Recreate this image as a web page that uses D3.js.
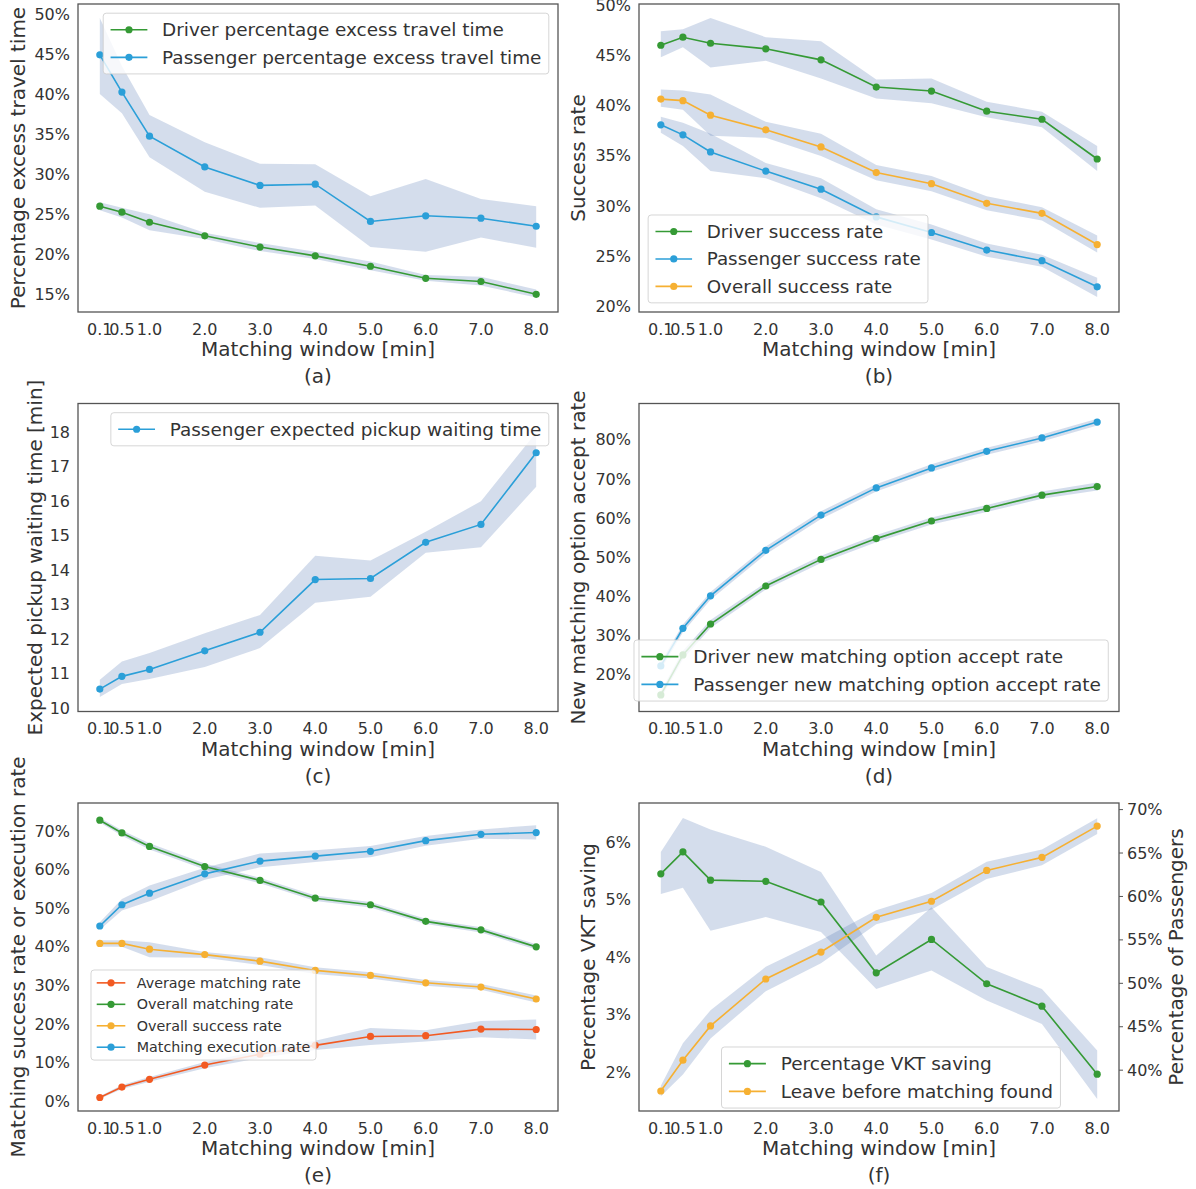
<!DOCTYPE html>
<html>
<head>
<meta charset="utf-8">
<script src="https://cdn.jsdelivr.net/npm/d3@7"></script>
<style>
  body { margin: 0; background: #fff; }
  text { font-family: "DejaVu Sans", sans-serif; fill: #333; }
</style>
</head>
<body>
<script>
// Matching windows (x axis, minutes)
const windows = [0.1, 0.5, 1, 2, 3, 4, 5, 6, 7, 8];
const windowLabels = ["0.1", "0.5", "1.0", "2.0", "3.0", "4.0", "5.0", "6.0", "7.0", "8.0"];

// (a) percentage excess travel time
const driverExcess   = [26.0, 25.25, 24.0, 22.3, 20.9, 19.8, 18.5, 17.0, 16.6, 15.0];
const driverExcessLo = [25.5, 24.6, 23.0, 21.9, 20.4, 19.4, 18.0, 16.7, 16.1, 14.6];
const driverExcessHi = [26.5, 25.8, 25.0, 22.7, 21.4, 20.3, 19.1, 17.4, 17.2, 15.6];
const passengerExcess   = [44.9, 40.25, 34.75, 30.9, 28.6, 28.75, 24.1, 24.8, 24.5, 23.5];
const passengerExcessLo = [40.0, 37.6, 32.1, 27.8, 25.8, 26.1, 20.9, 20.3, 22.1, 20.8];
const passengerExcessHi = [49.5, 43.5, 37.4, 34.0, 31.3, 31.25, 27.25, 29.4, 26.9, 26.0];

// (b) success rate
const driverSuccess   = [46.0, 46.8, 46.2, 45.65, 44.55, 41.85, 41.45, 39.45, 38.65, 34.7];
const driverSuccessLo = [44.8, 45.8, 43.8, 44.45, 42.7, 40.7, 40.25, 38.85, 37.85, 33.5];
const driverSuccessHi = [47.4, 47.6, 48.7, 46.8, 46.4, 42.6, 42.7, 40.4, 39.4, 36.0];
const passengerSuccess   = [38.1, 37.1, 35.4, 33.5, 31.7, 28.95, 27.4, 25.65, 24.6, 22.0];
const passengerSuccessLo = [37.3, 36.0, 33.5, 32.8, 30.8, 28.2, 26.7, 25.0, 24.0, 21.0];
const passengerSuccessHi = [38.9, 38.3, 37.2, 34.3, 32.8, 29.7, 28.2, 26.3, 25.2, 22.9];
const overallSuccess   = [40.65, 40.5, 39.05, 37.6, 35.9, 33.35, 32.25, 30.3, 29.3, 26.2];
const overallSuccessLo = [39.9, 39.6, 37.0, 36.8, 35.0, 32.6, 31.5, 29.6, 28.6, 25.4];
const overallSuccessHi = [41.6, 41.5, 41.1, 38.4, 37.2, 34.1, 33.0, 31.0, 29.9, 27.1];

// (c) expected pickup waiting time [min]
const pickupWait   = [10.55, 10.92, 11.12, 11.66, 12.2, 13.73, 13.76, 14.81, 15.33, 17.41];
const pickupWaitLo = [10.32, 10.7, 10.84, 11.19, 11.74, 13.06, 13.23, 14.51, 14.67, 16.42];
const pickupWaitHi = [10.82, 11.35, 11.6, 12.17, 12.7, 14.42, 14.28, 15.12, 16.0, 18.0];

// (d) new matching option accept rate
const driverAccept   = [14.9, 25.1, 33.0, 42.7, 49.5, 54.8, 59.3, 62.5, 65.9, 68.1];
const driverAcceptLo = [14.0, 24.0, 32.0, 41.8, 48.6, 53.9, 58.4, 61.6, 65.0, 67.1];
const driverAcceptHi = [15.8, 26.2, 34.0, 43.6, 50.4, 55.7, 60.2, 63.4, 66.8, 69.1];
const passengerAccept   = [22.3, 31.9, 40.2, 51.8, 60.8, 67.75, 72.85, 77.1, 80.5, 84.55];
const passengerAcceptLo = [21.3, 30.9, 39.2, 50.8, 59.8, 66.8, 71.9, 76.2, 79.6, 83.7];
const passengerAcceptHi = [23.3, 32.9, 41.2, 52.8, 61.8, 68.7, 73.8, 78.0, 81.4, 85.4];

// (e) matching success / execution rate
const avgMatching   = [1.0, 3.7, 5.7, 9.4, 12.2, 14.5, 16.8, 17.0, 18.7, 18.6];
const avgMatchingLo = [0.7, 3.2, 5.1, 8.6, 11.2, 13.3, 14.6, 15.5, 16.6, 16.0];
const avgMatchingHi = [1.3, 4.2, 6.3, 10.2, 13.2, 15.7, 19.0, 18.4, 20.8, 21.2];
const overallMatching   = [72.8, 69.5, 66.0, 60.8, 57.2, 52.6, 50.9, 46.6, 44.4, 40.0];
const overallMatchingLo = [72.2, 68.8, 65.2, 60.0, 56.5, 51.9, 50.2, 45.9, 43.7, 39.3];
const overallMatchingHi = [73.4, 70.2, 66.8, 61.6, 57.9, 53.3, 51.6, 47.3, 45.1, 40.7];
const overallSuccessE   = [40.9, 40.9, 39.4, 38.0, 36.3, 33.9, 32.6, 30.7, 29.6, 26.5];
const overallSuccessELo = [40.0, 40.0, 37.3, 37.2, 35.3, 33.0, 31.8, 29.9, 28.9, 25.6];
const overallSuccessEHi = [41.7, 41.7, 41.2, 38.7, 37.3, 34.7, 33.4, 31.4, 30.4, 27.4];
const executionRate   = [45.4, 50.9, 53.9, 58.9, 62.2, 63.5, 64.75, 67.5, 69.15, 69.6];
const executionRateLo = [44.4, 49.4, 51.8, 57.4, 60.6, 62.0, 63.2, 66.2, 68.0, 67.8];
const executionRateHi = [46.4, 52.4, 55.9, 60.5, 64.2, 65.0, 66.1, 68.7, 70.4, 71.5];

// (f) VKT saving (left axis) and leaving passengers (right axis)
const vktSaving   = [5.45, 5.83, 5.34, 5.32, 4.96, 3.73, 4.31, 3.54, 3.15, 1.97];
const vktSavingLo = [5.1, 5.21, 4.46, 4.70, 4.44, 3.45, 3.77, 3.25, 2.84, 1.54];
const vktSavingHi = [5.83, 6.42, 6.22, 5.92, 5.48, 4.03, 4.87, 3.83, 3.45, 2.38];
const leaveBefore   = [37.6, 41.15, 45.1, 50.5, 53.6, 57.6, 59.45, 63.0, 64.5, 68.1];
const leaveBeforeLo = [37.0, 39.5, 43.65, 49.1, 52.3, 56.8, 58.5, 62.0, 63.6, 67.2];
const leaveBeforeHi = [38.2, 43.1, 46.9, 51.9, 55.0, 58.4, 60.4, 64.0, 65.4, 69.0];

// tick values
const ticksA = [15, 20, 25, 30, 35, 40, 45, 50];
const ticksB = [20, 25, 30, 35, 40, 45, 50];
const ticksC = [10, 11, 12, 13, 14, 15, 16, 17, 18];
const ticksD = [20, 30, 40, 50, 60, 70, 80];
const ticksE = [0, 10, 20, 30, 40, 50, 60, 70];
const ticksF = [2, 3, 4, 5, 6];
const ticksF2 = [40, 45, 50, 55, 60, 65, 70];

const green = "#359a35", blue = "#2b9fd8", orange = "#f6b032", red = "#f25a22";
const bandColor = "#4c72b0";

const W = 1196, H = 1189;
const boxW = 480, boxH = 308;
const xDomain = [-0.295, 8.395];

const svg = d3.select("body").append("svg")
  .attr("width", W)
  .attr("height", H);

const pct = d => d + "%";

function drawPanel(p, idx) {
  const x = d3.scaleLinear().domain(xDomain).range([p.left, p.left + boxW]);
  const y = d3.scaleLinear().domain(p.yDomain).range([p.top + boxH, p.top]);
  const y2 = p.y2Domain ? d3.scaleLinear().domain(p.y2Domain).range([p.top + boxH, p.top]) : null;

  const g = svg.append("g");
  const clipId = "clip" + idx;
  g.append("clipPath").attr("id", clipId)
    .append("rect")
    .attr("x", p.left).attr("y", p.top)
    .attr("width", boxW).attr("height", boxH);

  const plot = g.append("g").attr("clip-path", `url(#${clipId})`);

  // confidence bands first
  p.series.forEach(s => {
    const ys = s.axis === "right" ? y2 : y;
    const area = d3.area()
      .x((d, i) => x(windows[i]))
      .y0((d, i) => ys(s.lo[i]))
      .y1((d, i) => ys(s.hi[i]));
    plot.append("path")
      .attr("d", area(s.values))
      .attr("fill", bandColor)
      .attr("fill-opacity", 0.24);
  });

  // lines + markers
  p.series.forEach(s => {
    const ys = s.axis === "right" ? y2 : y;
    const line = d3.line()
      .x((d, i) => x(windows[i]))
      .y(d => ys(d));
    plot.append("path")
      .attr("d", line(s.values))
      .attr("fill", "none")
      .attr("stroke", s.color)
      .attr("stroke-width", 1.6);
    plot.selectAll(null)
      .data(s.values)
      .enter()
      .append("circle")
      .attr("cx", (d, i) => x(windows[i]))
      .attr("cy", d => ys(d))
      .attr("r", 3.6)
      .attr("fill", s.color);
  });

  // frame
  g.append("rect")
    .attr("x", p.left).attr("y", p.top)
    .attr("width", boxW).attr("height", boxH)
    .attr("fill", "none")
    .attr("stroke", "#555")
    .attr("stroke-width", 1.3);

  // x tick labels
  g.selectAll(null)
    .data(windows)
    .enter()
    .append("text")
    .attr("x", d => x(d))
    .attr("y", p.top + boxH + 17)
    .attr("text-anchor", "middle")
    .attr("dominant-baseline", "central")
    .style("font-size", "16px")
    .text((d, i) => windowLabels[i]);

  // y tick labels
  g.selectAll(null)
    .data(p.yTicks)
    .enter()
    .append("text")
    .attr("x", p.left - 8)
    .attr("y", d => y(d))
    .attr("text-anchor", "end")
    .attr("dominant-baseline", "central")
    .style("font-size", "16px")
    .text(p.yFormat);

  // right axis, with small outward ticks
  if (y2) {
    g.selectAll(null)
      .data(p.y2Ticks)
      .enter()
      .append("line")
      .attr("x1", p.left + boxW).attr("x2", p.left + boxW + 4)
      .attr("y1", d => y2(d)).attr("y2", d => y2(d))
      .attr("stroke", "#555");
    g.selectAll(null)
      .data(p.y2Ticks)
      .enter()
      .append("text")
      .attr("x", p.left + boxW + 8)
      .attr("y", d => y2(d))
      .attr("dominant-baseline", "central")
      .style("font-size", "16px")
      .text(pct);
    g.append("text")
      .attr("transform", `translate(${p.y2LabelX},${p.top + boxH / 2}) rotate(-90)`)
      .attr("text-anchor", "middle")
      .attr("dominant-baseline", "central")
      .style("font-size", "20px")
      .text(p.y2Label);
  }

  // axis labels
  g.append("text")
    .attr("x", p.left + boxW / 2)
    .attr("y", p.top + boxH + 37)
    .attr("text-anchor", "middle")
    .attr("dominant-baseline", "central")
    .style("font-size", "20px")
    .text("Matching window [min]");
  g.append("text")
    .attr("x", p.left + boxW / 2)
    .attr("y", p.top + boxH + 64)
    .attr("text-anchor", "middle")
    .attr("dominant-baseline", "central")
    .style("font-size", "20px")
    .text(p.tag);
  g.append("text")
    .attr("transform", `translate(${p.yLabelX},${p.top + boxH / 2}) rotate(-90)`)
    .attr("text-anchor", "middle")
    .attr("dominant-baseline", "central")
    .style("font-size", "20px")
    .text(p.yLabel);

  drawLegend(g, p);
}

function drawLegend(g, p) {
  const fs = p.legend.fs;
  const lg = g.append("g");
  const bg = lg.append("rect");
  const texts = p.series.map(s => lg.append("text")
    .style("font-size", fs + "px")
    .attr("dominant-baseline", "central")
    .text(s.name));
  const textW = d3.max(texts, t => t.node().getComputedTextLength());
  const bw = 3.6 * fs + textW;
  const bh = 0.8 * fs + p.series.length * fs + (p.series.length - 1) * 0.5 * fs;

  let bx, by;
  if (p.legend.loc === "upper right") {
    bx = p.left + boxW - 0.5 * fs - bw;
    by = p.top + 0.5 * fs;
  } else if (p.legend.loc === "lower left") {
    bx = p.left + 0.5 * fs;
    by = p.top + boxH - 0.5 * fs - bh;
  } else {
    bx = p.left + p.legend.dx;
    by = p.top + p.legend.dy;
  }

  bg.attr("x", bx).attr("y", by)
    .attr("width", bw).attr("height", bh)
    .attr("rx", 3)
    .attr("fill", "#fff")
    .attr("fill-opacity", 0.8)
    .attr("stroke", "#ccc")
    .attr("stroke-opacity", 0.8);

  p.series.forEach((s, i) => {
    const cy = by + 0.4 * fs + i * 1.5 * fs + fs / 2;
    const hx0 = bx + 0.4 * fs, hx1 = hx0 + 2 * fs;
    lg.append("line")
      .attr("x1", hx0).attr("x2", hx1)
      .attr("y1", cy).attr("y2", cy)
      .attr("stroke", s.color)
      .attr("stroke-width", 1.6);
    lg.append("circle")
      .attr("cx", (hx0 + hx1) / 2).attr("cy", cy)
      .attr("r", 3.6)
      .attr("fill", s.color);
    texts[i].attr("x", hx1 + 0.8 * fs).attr("y", cy);
    texts[i].raise();
  });
}

const panels = [
  {
    tag: "(a)", left: 78, top: 4,
    yDomain: [12.79, 51.25], yTicks: ticksA, yFormat: pct,
    yLabel: "Percentage excess travel time", yLabelX: 18,
    legend: { loc: "upper right", fs: 18.4 },
    series: [
      { name: "Driver percentage excess travel time", values: driverExcess, lo: driverExcessLo, hi: driverExcessHi, color: green },
      { name: "Passenger percentage excess travel time", values: passengerExcess, lo: passengerExcessLo, hi: passengerExcessHi, color: blue }
    ]
  },
  {
    tag: "(b)", left: 639, top: 4,
    yDomain: [19.5, 50.1], yTicks: ticksB, yFormat: pct,
    yLabel: "Success rate", yLabelX: 578,
    legend: { loc: "lower left", fs: 18.3 },
    series: [
      { name: "Driver success rate", values: driverSuccess, lo: driverSuccessLo, hi: driverSuccessHi, color: green },
      { name: "Passenger success rate", values: passengerSuccess, lo: passengerSuccessLo, hi: passengerSuccessHi, color: blue },
      { name: "Overall success rate", values: overallSuccess, lo: overallSuccessLo, hi: overallSuccessHi, color: orange }
    ]
  },
  {
    tag: "(c)", left: 78, top: 403.5,
    yDomain: [9.9, 18.84], yTicks: ticksC, yFormat: d => d,
    yLabel: "Expected pickup waiting time [min]", yLabelX: 34.5,
    legend: { loc: "upper right", fs: 18.4 },
    series: [
      { name: "Passenger expected pickup waiting time", values: pickupWait, lo: pickupWaitLo, hi: pickupWaitHi, color: blue }
    ]
  },
  {
    tag: "(d)", left: 639, top: 403.5,
    yDomain: [10.66, 89.3], yTicks: ticksD, yFormat: pct,
    yLabel: "New matching option accept rate", yLabelX: 578,
    legend: { dx: -5, dy: 236.5, fs: 18.5 },
    series: [
      { name: "Driver new matching option accept rate", values: driverAccept, lo: driverAcceptLo, hi: driverAcceptHi, color: green },
      { name: "Passenger new matching option accept rate", values: passengerAccept, lo: passengerAcceptLo, hi: passengerAcceptHi, color: blue }
    ]
  },
  {
    tag: "(e)", left: 78, top: 803,
    yDomain: [-2.5, 77.25], yTicks: ticksE, yFormat: pct,
    yLabel: "Matching success rate or execution rate", yLabelX: 17.5,
    legend: { dx: 13, dy: 167, fs: 14.3 },
    series: [
      { name: "Average matching rate", values: avgMatching, lo: avgMatchingLo, hi: avgMatchingHi, color: red },
      { name: "Overall matching rate", values: overallMatching, lo: overallMatchingLo, hi: overallMatchingHi, color: green },
      { name: "Overall success rate", values: overallSuccessE, lo: overallSuccessELo, hi: overallSuccessEHi, color: orange },
      { name: "Matching execution rate", values: executionRate, lo: executionRateLo, hi: executionRateHi, color: blue }
    ]
  },
  {
    tag: "(f)", left: 639, top: 803,
    yDomain: [1.33, 6.68], yTicks: ticksF, yFormat: pct,
    yLabel: "Percentage VKT saving", yLabelX: 588,
    y2Domain: [35.3, 70.76], y2Ticks: ticksF2,
    y2Label: "Percentage of Passengers", y2LabelX: 1176,
    legend: { dx: 82.5, dy: 244, fs: 18.5 },
    series: [
      { name: "Percentage VKT saving", values: vktSaving, lo: vktSavingLo, hi: vktSavingHi, color: green },
      { name: "Leave before matching found", values: leaveBefore, lo: leaveBeforeLo, hi: leaveBeforeHi, color: orange, axis: "right" }
    ]
  }
];

panels.forEach((p, i) => drawPanel(p, i));
</script>
</body>
</html>
